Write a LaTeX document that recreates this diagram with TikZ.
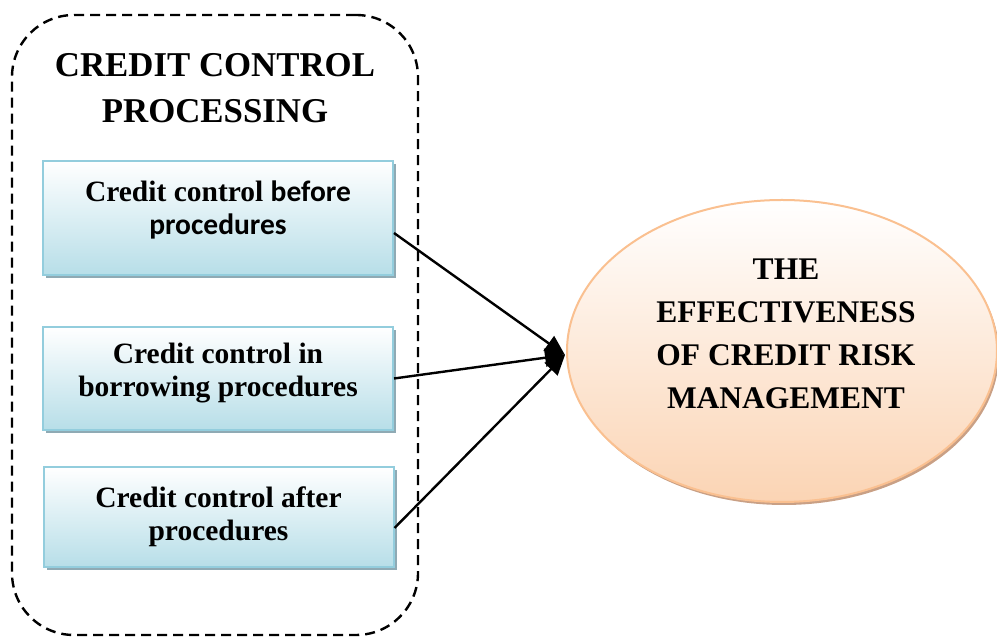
\documentclass[tikz,border=0pt]{standalone}
\usepackage{fontspec}
\setmainfont{Liberation Serif}
\newfontfamily\calib{Carlito}
\usetikzlibrary{shapes.geometric,shadows,arrows.meta}
\definecolor{boxblue}{HTML}{B7DEE8}
\definecolor{boxline}{HTML}{93CDDD}
\definecolor{boxshadow}{HTML}{8FAAB4}
\definecolor{ellfill}{HTML}{FBD4B4}
\definecolor{ellline}{HTML}{FAC090}
\definecolor{ellshadow}{HTML}{C9A085}
\tikzset{
  procbox/.style={draw=boxline, line width=2pt, top color=white, bottom color=boxblue,
    minimum width=350pt, align=center, inner sep=0pt,
    font=\bfseries\fontsize{29.5}{33}\selectfont,
    drop shadow={shadow xshift=3pt, shadow yshift=-3pt, fill=boxshadow, opacity=1}},
  groupbox/.style={draw=black, line width=2.4pt, dash pattern=on 10pt off 6pt,
    rounded corners=62pt, minimum width=406pt, minimum height=620pt, inner sep=0pt},
  outcome/.style={ellipse, draw=ellline, line width=2pt, top color=white, bottom color=ellfill,
    minimum width=430pt, minimum height=302pt, inner sep=0pt,
    drop shadow={shadow xshift=2pt, shadow yshift=-3pt, fill=ellshadow, opacity=1}},
  outtext/.style={align=center, inner sep=0pt, font=\bfseries\fontsize{31.5}{43}\selectfont},
  link/.style={draw=black, line width=2.4pt, -{Triangle[length=20pt,width=18pt,fill=black]}}
}
\begin{document}
\begin{tikzpicture}[x=1pt,y=1pt]
\useasboundingbox (0,0) rectangle (997,639);
\node[groupbox] (group) at (215,314) {};
\node[align=center, font=\bfseries\fontsize{34.8}{46}\selectfont] (title) at (215,551) {CREDIT CONTROL\\PROCESSING};
\node[procbox, minimum height=114pt] (b1) at (218,421) {};
\node[align=center, font=\bfseries\fontsize{29.5}{33}\selectfont] (t1) at ([yshift=8pt]b1.center) {Credit control {\calib before}\\{\calib procedures}};
\node[procbox, minimum height=103pt] (b2) at (218,260.5) {};
\node[align=center, font=\bfseries\fontsize{29.5}{33}\selectfont] (t2) at ([yshift=5pt]b2.center) {Credit control in\\borrowing procedures};
\node[procbox, minimum height=100pt] (b3) at (218.5,122) {};
\node[align=center, font=\bfseries\fontsize{29.5}{33}\selectfont] (t3) at ([yshift=0pt]b3.center) {Credit control after\\procedures};
\node[outcome] (ell) at (782,288) {};
\node[outtext] (et) at ([xshift=4pt,yshift=17pt]ell.center) {THE\\EFFECTIVENESS\\OF CREDIT RISK\\MANAGEMENT};
\coordinate (tip) at ([xshift=-1pt,yshift=-4pt]ell.west);
\draw[link] ([yshift=-15pt]b1.east) -- (tip);
\draw[link] ([yshift=0pt]b2.east) -- (tip);
\draw[link] ([yshift=-11pt]b3.east) -- (tip);
\end{tikzpicture}
\end{document}
